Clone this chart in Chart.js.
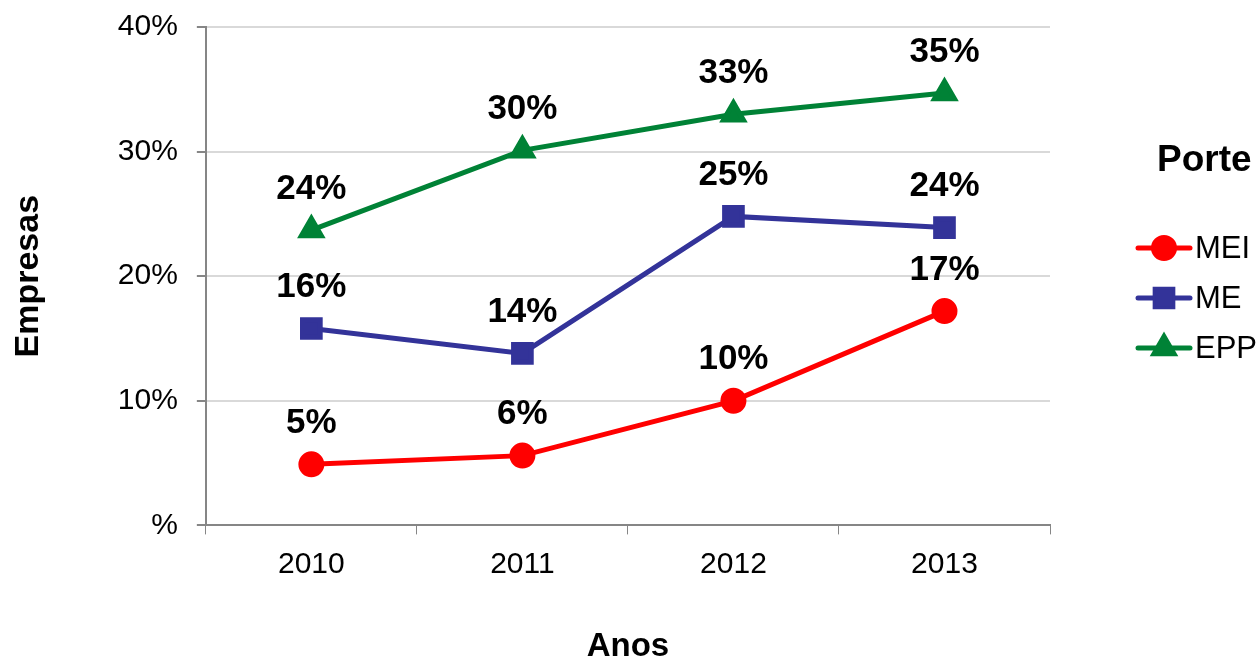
<!DOCTYPE html>
<html>
<head>
<meta charset="utf-8">
<script src="https://cdn.jsdelivr.net/npm/chart.js@4/dist/chart.umd.min.js"></script>
<style>
  html, body { margin: 0; padding: 0; background: #fff; }
  #wrap { width: 1260px; height: 667px; position: relative; }
</style>
</head>
<body>
<div id="wrap"><canvas id="porteChart" width="1260" height="667"></canvas></div>
<script>
    // Data
    const years = ['2010', '2011', '2012', '2013'];
    const mei = [4.9, 5.6, 10.0, 17.2];
    const me = [15.8, 13.8, 24.8, 23.9];
    const epp = [23.7, 30.1, 33.0, 34.7];
    const yTicks = [0, 10, 20, 30, 40];

    const FONT = "'Liberation Sans', Arial, sans-serif";
    Chart.defaults.font.family = FONT;
    Chart.defaults.color = '#000';

    // Draws the value labels above each point
    const valueLabels = {
      id: 'valueLabels',
      afterDatasetsDraw(chart) {
        const ctx = chart.ctx;
        ctx.save();
        ctx.font = 'bold 35px ' + FONT;
        ctx.fillStyle = '#000';
        ctx.textAlign = 'center';
        ctx.textBaseline = 'middle';
        chart.data.datasets.forEach((ds, i) => {
          chart.getDatasetMeta(i).data.forEach((pt, j) => {
            ctx.fillText(Math.round(ds.data[j]) + '%', pt.x, pt.y - 41);
          });
        });
        ctx.restore();
      }
    };

    // Legend on the right with a line + marker per series
    const sideLegend = {
      id: 'sideLegend',
      afterDraw(chart) {
        const ctx = chart.ctx;
        ctx.save();
        ctx.font = 'bold 37px ' + FONT;
        ctx.fillStyle = '#000';
        ctx.textAlign = 'left';
        ctx.textBaseline = 'middle';
        ctx.fillText('Porte', 1157, 161);
        ctx.font = '31px ' + FONT;
        chart.data.datasets.forEach((ds, i) => {
          const y = 248 + i * 50;
          ctx.strokeStyle = ds.borderColor;
          ctx.lineWidth = 5;
          ctx.lineCap = 'round';
          ctx.beginPath();
          ctx.moveTo(1138, y);
          ctx.lineTo(1190, y);
          ctx.stroke();
          Chart.helpers.drawPoint(ctx, {
            pointStyle: ds.pointStyle,
            radius: ds.pointRadius,
            borderWidth: 1
          }, 1164, y);
          ctx.fillStyle = ds.borderColor;
          ctx.fill();
          ctx.fillStyle = '#000';
          ctx.fillText(ds.label, 1195, y + 1);
        });
        ctx.restore();
      }
    };

    const ctx = document.getElementById('porteChart').getContext('2d');
    new Chart(ctx, {
      type: 'line',
      data: {
        labels: years,
        datasets: [
          {
            label: 'MEI',
            data: mei,
            borderColor: '#ff0000',
            backgroundColor: '#ff0000',
            borderWidth: 5,
            pointStyle: 'circle',
            pointRadius: 10.5
          },
          {
            label: 'ME',
            data: me,
            borderColor: '#333399',
            backgroundColor: '#333399',
            borderWidth: 5,
            pointStyle: 'rect',
            pointRadius: 12.5
          },
          {
            label: 'EPP',
            data: epp,
            borderColor: '#008236',
            backgroundColor: '#008236',
            borderWidth: 5,
            pointStyle: 'triangle',
            pointRadius: 11.5
          }
        ]
      },
      options: {
        responsive: false,
        animation: false,
        layout: { padding: { top: 27, right: 210, bottom: 0, left: 8 } },
        scales: {
          x: {
            offset: true,
            grid: {
              offset: true,
              drawOnChartArea: false,
              drawTicks: true,
              tickLength: 9,
              color: '#868686'
            },
            border: { color: '#868686', width: 2 },
            ticks: { font: { size: 30 }, color: '#000', padding: 12 },
            title: {
              display: true,
              text: 'Anos',
              font: { size: 33, weight: 'bold' },
              color: '#000',
              padding: { top: 33, bottom: 0 }
            }
          },
          y: {
            min: 0,
            max: 40,
            afterBuildTicks(axis) {
              axis.ticks = yTicks.map(v => ({ value: v }));
            },
            afterFit(axis) {
              axis.paddingTop = 0;
              axis.paddingBottom = 0;
            },
            grid: {
              color: '#d9d9d9',
              lineWidth: 2,
              drawTicks: true,
              tickLength: 9,
              tickColor: '#868686'
            },
            border: { color: '#868686', width: 2 },
            ticks: {
              font: { size: 30 },
              color: '#000',
              padding: 19,
              callback: v => (v === 0 ? '%' : v + '%')
            },
            title: {
              display: true,
              text: 'Empresas',
              font: { size: 34, weight: 'bold' },
              color: '#000',
              padding: { top: 0, bottom: 50 }
            }
          }
        },
        plugins: {
          legend: { display: false },
          tooltip: { enabled: false }
        }
      },
      plugins: [valueLabels, sideLegend]
    });
</script>
</body>
</html>
